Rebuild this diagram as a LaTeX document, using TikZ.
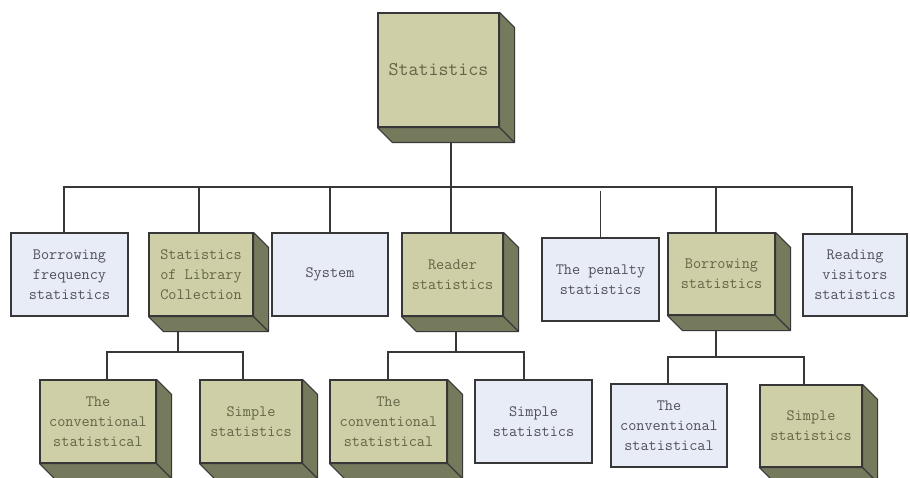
\documentclass[tikz,border=0pt]{standalone}
\usepackage{fontspec}
\definecolor{olivefront}{RGB}{206,207,166}
\definecolor{olivedepth}{RGB}{118,122,92}
\definecolor{bluefill}{RGB}{231,236,247}
\definecolor{edgecol}{RGB}{55,55,55}
\definecolor{olivetext}{RGB}{100,100,70}
\definecolor{bluetext}{RGB}{80,80,88}
\pgfdeclarelayer{bg}
\pgfsetlayers{bg,main}
\tikzset{
  basebox/.style={draw=edgecol, line width=1.1pt, align=center, inner sep=0pt,
    font=\ttfamily\fontsize{15.8}{20}\selectfont},
  olivebox/.style={basebox, fill=olivefront, text=olivetext},
  bluebox/.style={basebox, fill=bluefill, text=bluetext},
  conn/.style={draw=edgecol, line width=1.2pt},
  depthface/.style={fill=olivedepth, draw=edgecol, line width=1.1pt, line join=round}
}
\newcommand\boxdepth[1]{%
  \path[depthface] (#1.north east) -- ([shift={(15pt,-15pt)}]#1.north east)
    -- ([shift={(15pt,-15pt)}]#1.south east) -- ([shift={(15pt,-15pt)}]#1.south west)
    -- (#1.south west) -- (#1.south east) -- cycle;
  \draw[edgecol, line width=1.1pt] (#1.south east) -- ([shift={(15pt,-15pt)}]#1.south east);
}
\begin{document}
\begin{tikzpicture}[x=1pt,y=-1pt]
\useasboundingbox (0,0) rectangle (910,478);
% nodes (front faces)
\node[olivebox, minimum width=121pt, minimum height=114pt, font=\ttfamily\fontsize{19.4}{22}\selectfont] (stat) at (438.5,70) {Statistics};
\node[bluebox, minimum width=117pt, minimum height=83pt] (bf) at (69.5,274.5) {Borrowing\\frequency\\statistics};
\node[olivebox, minimum width=104pt, minimum height=83pt] (slc) at (201,274.5) {Statistics\\of Library\\Collection};
\node[bluebox, minimum width=116pt, minimum height=83pt] (sys) at (330,274.5) {System};
\node[olivebox, minimum width=101pt, minimum height=83pt] (rs) at (452.5,274.5) {Reader\\statistics};
\node[bluebox, minimum width=117pt, minimum height=83pt] (pen) at (600.5,279.5) {The penalty\\statistics};
\node[olivebox, minimum width=107pt, minimum height=82pt] (bs) at (721.5,274) {Borrowing\\statistics};
\node[bluebox, minimum width=104pt, minimum height=82pt] (rv) at (855,275) {Reading\\visitors\\statistics};
\node[olivebox, minimum width=116pt, minimum height=83pt] (c1) at (98,421.5) {The\\conventional\\statistical};
\node[olivebox, minimum width=102pt, minimum height=83pt] (s1) at (251,421.5) {Simple\\statistics};
\node[olivebox, minimum width=117pt, minimum height=83pt] (c2) at (388.5,421.5) {The\\conventional\\statistical};
\node[bluebox, minimum width=117pt, minimum height=83pt] (s2) at (533.5,421.5) {Simple\\statistics};
\node[bluebox, minimum width=116pt, minimum height=83pt] (c3) at (669,425.5) {The\\conventional\\statistical};
\node[olivebox, minimum width=102pt, minimum height=82pt] (s3) at (811,426) {Simple\\statistics};
% depth faces of the 3D boxes
\foreach \n in {stat,slc,rs,bs,c1,s1,c2,s3} {\boxdepth{\n}}
% connectors (behind the boxes)
\coordinate (sj) at (451,187);
\coordinate (j1) at (178,352);
\coordinate (j2) at (456,352);
\coordinate (j3) at (716,357);
\begin{pgfonlayer}{bg}
\fill[white] (0,0) rectangle (910,478);
\draw[conn] (sj) -- (sj |- stat.south);
\draw[conn] ([xshift=-5.5pt]bf.north) |- (sj) -| ([xshift=-3pt]rv.north);
\draw[conn] ([xshift=-2pt]slc.north) -- ([xshift=-2pt]slc.north |- sj);
\draw[conn] (sys.north) -- (sys.north |- sj);
\draw[conn] ([xshift=-1.5pt]rs.north) -- ([xshift=-1.5pt]rs.north |- sj);
\draw[conn] ([xshift=-5.5pt]bs.north) -- ([xshift=-5.5pt]bs.north |- sj);
\draw[conn] (pen.north) -- ([yshift=46pt]pen.north);
\draw[conn] ([xshift=9pt]c1.north) |- (j1) -| ([xshift=-8pt]s1.north);
\draw[conn] (j1) -- (j1 |- slc.south);
\draw[conn] ([xshift=-0.5pt]c2.north) |- (j2) -| ([xshift=-9.5pt]s2.north);
\draw[conn] (j2) -- (j2 |- rs.south);
\draw[conn] ([xshift=-1pt]c3.north) |- (j3) -| ([xshift=-7pt]s3.north);
\draw[conn] (j3) -- (j3 |- bs.south);
\end{pgfonlayer}
\end{tikzpicture}
\end{document}
